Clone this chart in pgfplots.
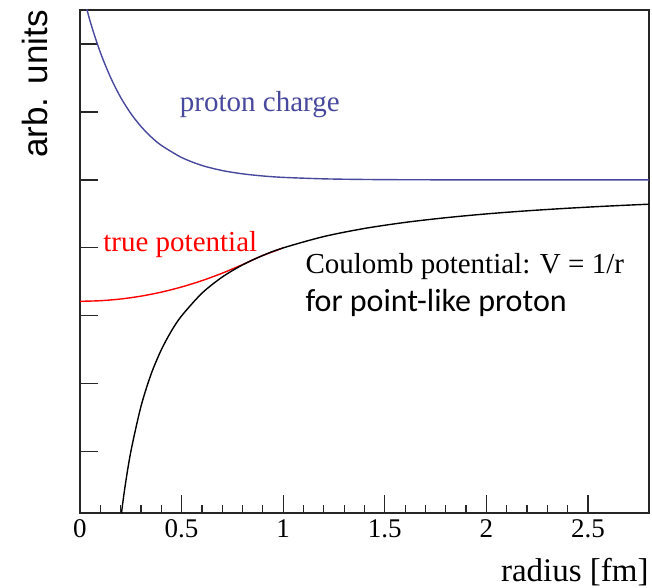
\documentclass[border=0pt]{standalone}
\usepackage{fontspec}
\setmainfont{Liberation Serif}
\newfontfamily\arial{Liberation Sans}
\newfontfamily\calibri{Carlito}
\usepackage{pgfplots}
\pgfplotsset{compat=1.18}
\definecolor{chargeblue}{RGB}{72,72,158}
\begin{document}
\begin{tikzpicture}
  \begin{axis}[
      scale only axis,
      width=284.5pt, height=251.5pt,
      xmin=0, xmax=2.8, ymin=-4.9, ymax=2.5,
      xtick={0,0.5,1,1.5,2,2.5},
      minor x tick num=4,
      ytick={-4,-3,-2,-1,0,1,2},
      yticklabels={},
      xtick pos=bottom, ytick pos=left,
      tick align=inside,
      major tick length=9pt, minor tick length=4pt,
      axis line style={black!85, line width=0.6pt},
      every tick/.style={black!85, line width=0.6pt},
      /pgf/number format/assume math mode=true,
      ticklabel style={font=\fontsize{13.5}{15}\selectfont},
      clip mode=individual,
    ]
    % true potential (red), inside the proton
    \addplot[red, line width=0.7pt, smooth] coordinates {
      (0,-1.786) (0.1,-1.777) (0.2,-1.752) (0.3,-1.710) (0.4,-1.651)
      (0.5,-1.575) (0.6,-1.482) (0.7,-1.372) (0.8,-1.246) (0.84,-1.190)
      (0.9,-1.111) (1.0,-1.0)
    };
    % Coulomb potential -1/r
    \addplot[black, line width=0.7pt, smooth] coordinates {
      (0.2,-5) (0.22,-4.545) (0.25,-4) (0.3,-3.333) (0.35,-2.857)
      (0.4,-2.5) (0.45,-2.222) (0.5,-2) (0.6,-1.667) (0.7,-1.4286)
      (0.8,-1.25) (0.9,-1.111) (1.0,-1) (1.2,-0.833) (1.4,-0.714)
      (1.6,-0.625) (1.8,-0.556) (2.0,-0.5) (2.2,-0.4545) (2.4,-0.4167)
      (2.6,-0.3846) (2.8,-0.357)
    };
    % proton charge
    \addplot[chargeblue, line width=0.7pt, smooth] coordinates {
      (0,2.9) (0.05,2.333) (0.1,1.877) (0.15,1.511) (0.2,1.215)
      (0.25,0.978) (0.3,0.787) (0.35,0.633) (0.4,0.509) (0.5,0.330)
      (0.6,0.213) (0.7,0.138) (0.8,0.0895) (0.9,0.058) (1.0,0.0375)
      (1.2,0.0157) (1.4,0.0066) (1.6,0.0028) (2.0,0.0005) (2.8,0)
    };
    \node[anchor=base west, text=chargeblue, font=\fontsize{14.5}{16}\selectfont, inner sep=0pt]
      at (axis cs:0.49,1.01) {proton charge};
    \node[anchor=base west, text=red, font=\fontsize{14.5}{16}\selectfont, inner sep=0pt]
      at (axis cs:0.113,-1.06) {true potential};
    \node[anchor=base west, font=\fontsize{14.5}{16}\selectfont, inner sep=0pt]
      at (axis cs:1.108,-1.37) {Coulomb potential: V = 1/r};
    \node[anchor=base west, font=\calibri\fontsize{16}{18}\selectfont, inner sep=0pt]
      at (axis cs:1.108,-1.93) {for point-like proton};
    \node[anchor=base east, font=\fontsize{16.5}{18}\selectfont, inner sep=0pt]
      at (rel axis cs:1,-0.137) {radius [fm]};
    \node[rotate=90, anchor=east, font=\arial\fontsize{17.5}{19}\selectfont, inner sep=0pt]
      at (rel axis cs:-0.079,1) {arb. units};
    \path (rel axis cs:-0.1406,1.0199) rectangle (rel axis cs:1.0053,-0.149);
  \end{axis}
\end{tikzpicture}
\end{document}
